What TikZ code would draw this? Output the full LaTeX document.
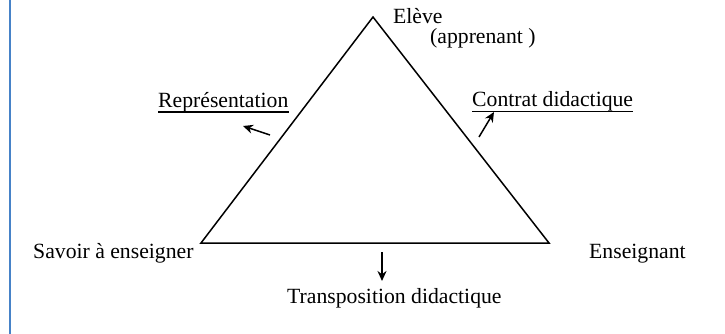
\documentclass[tikz,border=0pt]{standalone}
\usepackage{fontspec}
\setmainfont{Liberation Serif}
\usetikzlibrary{arrows.meta}
\definecolor{frameblue}{RGB}{70,130,200}
\begin{document}
\begin{tikzpicture}[x=1pt,y=-1pt,
  lbl/.style={inner sep=0pt, font=\fontsize{21.7}{24}\selectfont},
  edge/.style={line width=1.5pt, line join=miter},
  uline/.style={line width=1.3pt},
  arr/.style={line width=1.5pt,-{Stealth[length=10pt,width=9pt]}}]
\useasboundingbox (0,0) rectangle (725,334);
\fill[white] (0,0) rectangle (725,334);
\draw[line width=2pt, frameblue] (9.5,0) -- (9.5,334);
\coordinate (A) at (373,17);
\coordinate (B) at (201,243);
\coordinate (C) at (549,243);
\draw[edge] (A) -- (B) -- (C) -- cycle;
\node[lbl, anchor=base west] (eleve) at (393,24) {Elève};
\node[lbl, anchor=base west] (appr) at (430,44) {(apprenant )};
\node[lbl, anchor=base west] (rep) at (158,108) {Représentation};
\node[lbl, anchor=base west] (contrat) at (472,107) {Contrat didactique};
\node[lbl, anchor=base west] (savoir) at (33,258) {Savoir à enseigner};
\node[lbl, anchor=base west] (ens) at (589,258) {Enseignant};
\node[lbl, anchor=base west] (trans) at (287,303) {Transposition didactique};
\draw[uline] ([yshift=-4pt]rep.base west) -- ([yshift=-4pt]rep.base east);
\draw[uline] ([yshift=-4.5pt]contrat.base west) -- ([yshift=-4.5pt]contrat.base east);
\coordinate (r1) at (270,135);
\coordinate (r2) at (243,126);
\coordinate (c1) at (479,137);
\coordinate (c2) at (494,112);
\coordinate (t1) at (382,252);
\coordinate (t2) at (382,281);
\draw[arr] (r1) -- (r2);
\draw[arr] (c1) -- (c2);
\draw[arr] (t1) -- (t2);
\end{tikzpicture}
\end{document}
